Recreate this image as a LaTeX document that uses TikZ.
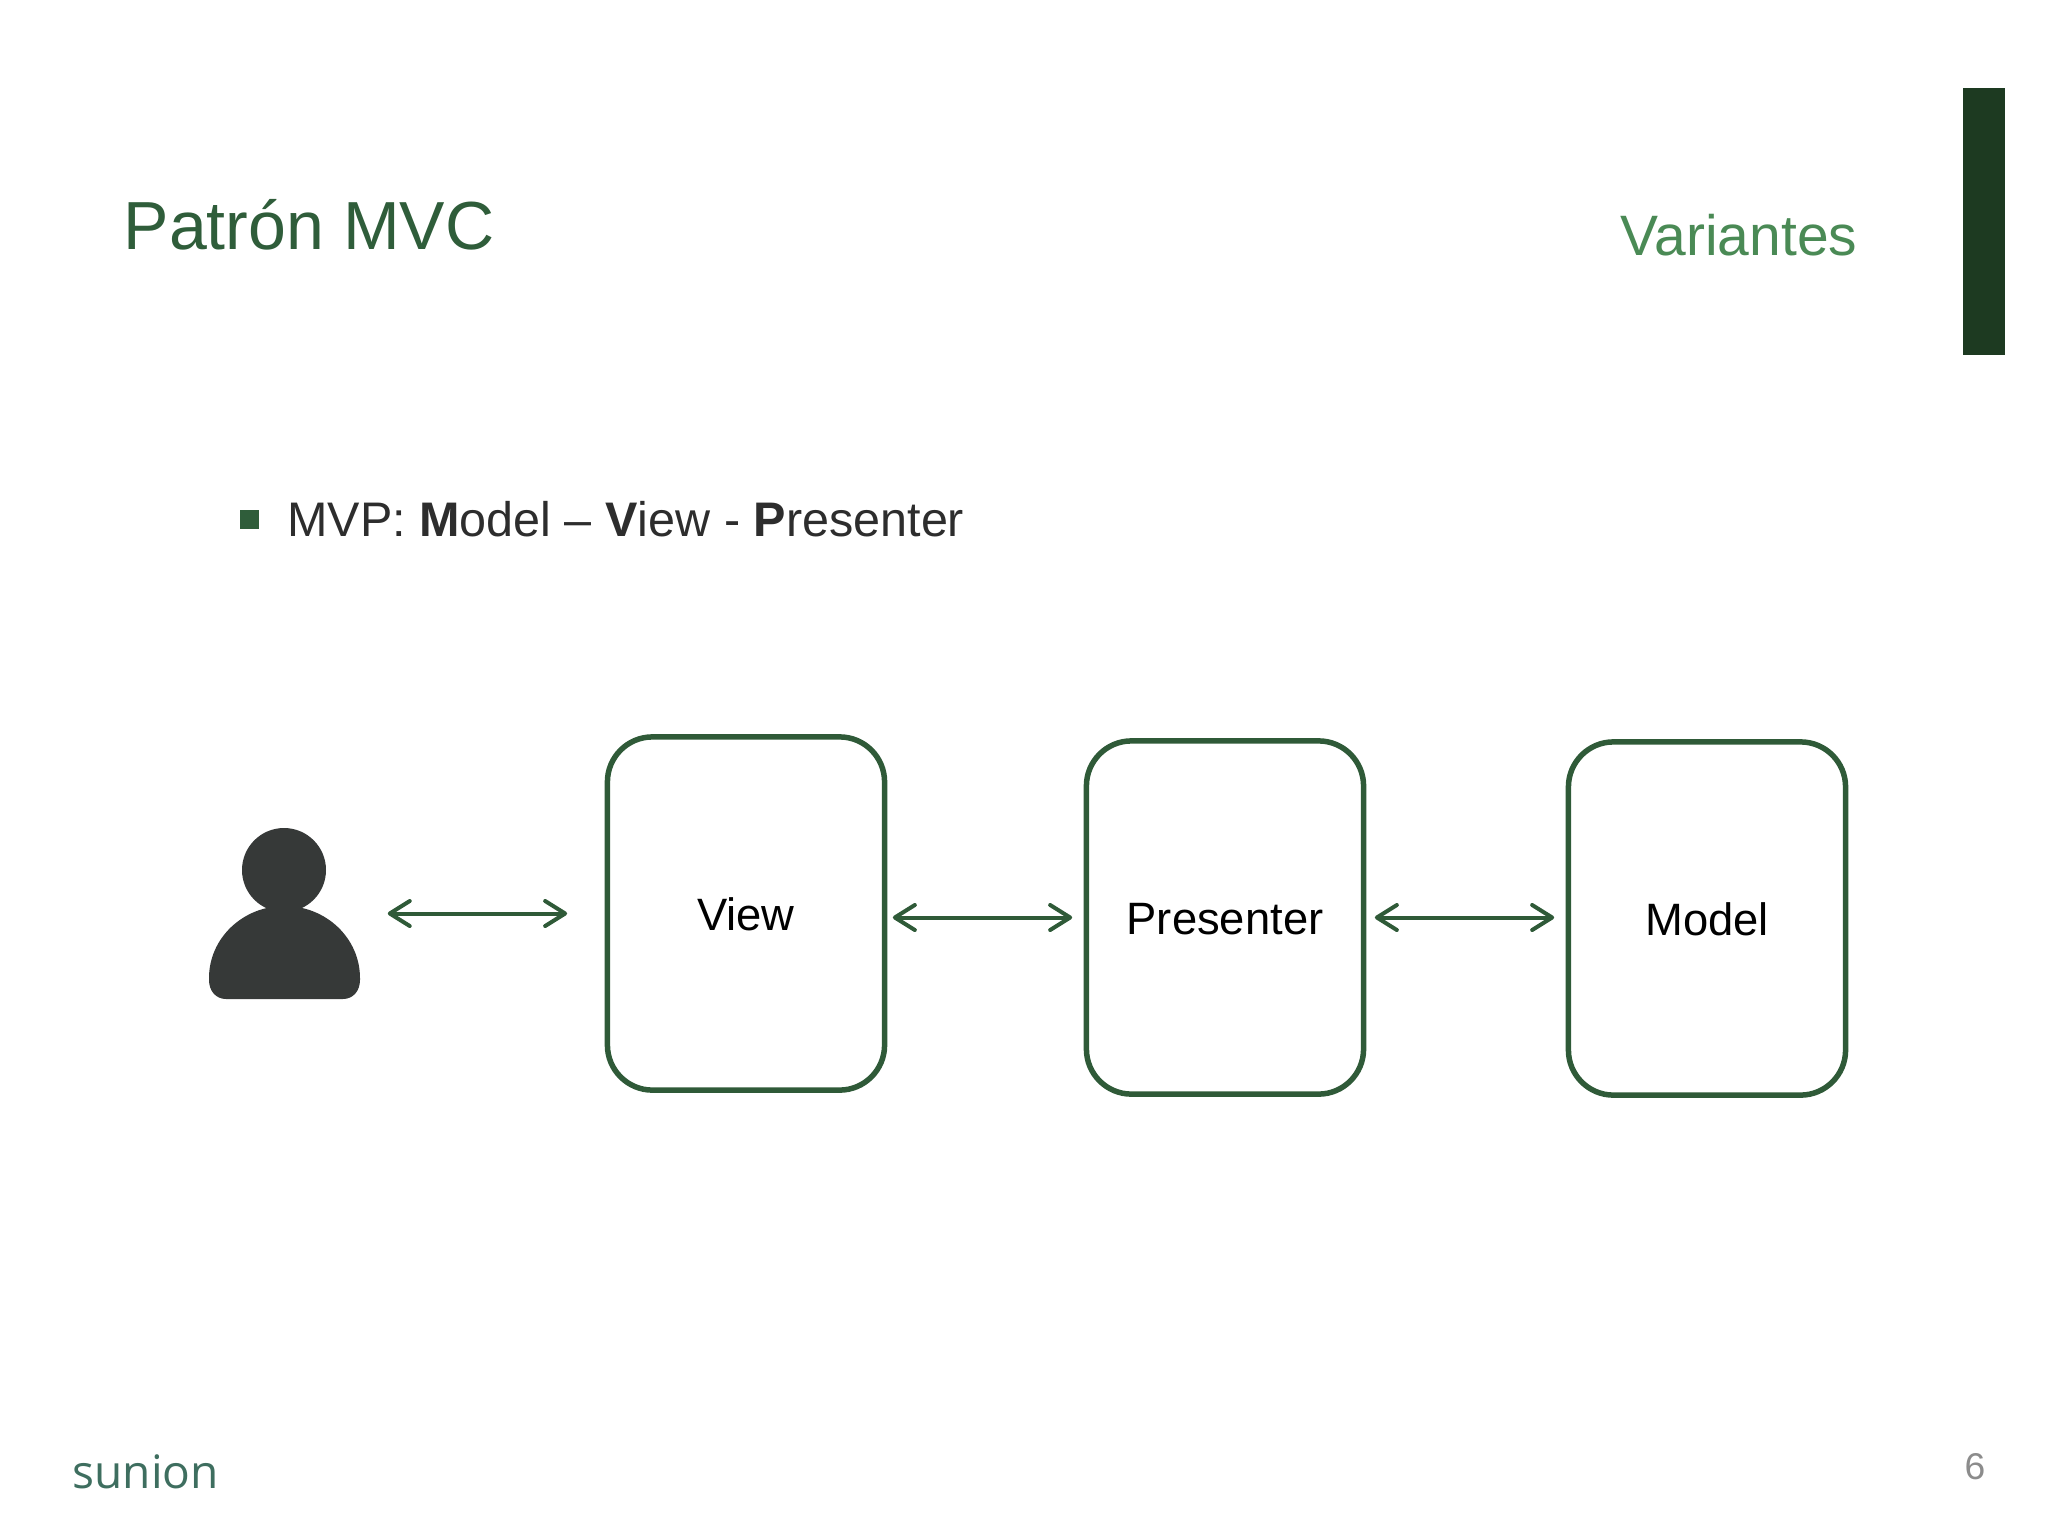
\documentclass[tikz,border=0pt]{standalone}
\usepackage{fontspec}
\setmainfont{Liberation Sans}
\newfontfamily\logofont{Open Sans}
\usetikzlibrary{arrows.meta}
\definecolor{titlegreen}{RGB}{47,93,58}
\definecolor{subgreen}{RGB}{74,138,85}
\definecolor{bargreen}{RGB}{29,58,33}
\definecolor{boxgreen}{RGB}{47,90,56}
\definecolor{iconblack}{RGB}{54,57,56}
\definecolor{bodytext}{RGB}{45,45,45}
\definecolor{logogreen}{RGB}{62,110,95}

\begin{document}
\begin{tikzpicture}[x=0.01cm,y=-0.01cm,
    label/.style={inner sep=0pt},
    box/.style={draw=boxgreen, line width=0.055cm, rounded corners=0.45cm,
      minimum width=2.77cm, minimum height=3.53cm, inner sep=0pt,
      text height=0.34cm, text depth=0pt,
      font=\fontsize{12.9}{15}\selectfont},
    link/.style={boxgreen, line width=0.04cm, line cap=round,
      {Straight Barb[length=0.2cm,width=0.25cm,round]}-{Straight Barb[length=0.2cm,width=0.25cm,round]}}]

\useasboundingbox (0,0) rectangle (2048,1536);

%---------------------------------------
% Slide header
%---------------------------------------
\fill[bargreen] (1963,88) rectangle (2005,355);
\node[label, anchor=base west, titlegreen, font=\fontsize{19.35}{23}\selectfont]
  (title) at (123,249.5) {Patrón MVC};
\node[label, anchor=base east, subgreen, font=\fontsize{16.2}{19}\selectfont]
  (variantes) at (1858,255) {Variantes};

% Bullet line
\fill[titlegreen] (240,510) rectangle (259,529);
\node[label, anchor=base west, bodytext, font=\fontsize{13.8}{17}\selectfont]
  (bullet) at (286.5,536) {MVP: \textbf{M}odel – \textbf{V}iew - \textbf{P}resenter};

%---------------------------------------
% User icon
%---------------------------------------
\fill[iconblack] (284,870) circle (42);
\fill[iconblack] (209,978) arc[start angle=180, end angle=360, x radius=75.5, y radius=72]
  -- (360,980) .. controls (360,991) and (353,999) .. (343,999)
  -- (226,999) .. controls (216,999) and (209,991) .. (209,980) -- cycle;
\node[label, minimum width=1.51cm, minimum height=1.7cm] (user) at (284.5,913) {};

%---------------------------------------
% Boxes
%---------------------------------------
\node[box] (view) at (746,913.5) {View};
\node[box] (presenter) at (1225,917.5) {Presenter};
\node[box] (model) at (1707,918.5) {Model};

% Arrows
\draw[link, shorten <=0.27cm, shorten >=0.375cm] (user.east |- view) -- (view.west);
\draw[link, shorten <=0.055cm, shorten >=0.115cm] (view.east |- presenter) -- (presenter.west);
\draw[link, shorten <=0.085cm, shorten >=0.115cm] (presenter.east) -- (model.west |- presenter);

%---------------------------------------
% Footer
%---------------------------------------
\node[label, anchor=base west, logogreen, font=\logofont\fontsize{13.1}{15}\selectfont]
  (logo) at (72,1488) {sunion};
\node[label, anchor=base, gray!90, font=\fontsize{10.6}{13}\selectfont]
  (page) at (1975,1479) {6};

\end{tikzpicture}
\end{document}
